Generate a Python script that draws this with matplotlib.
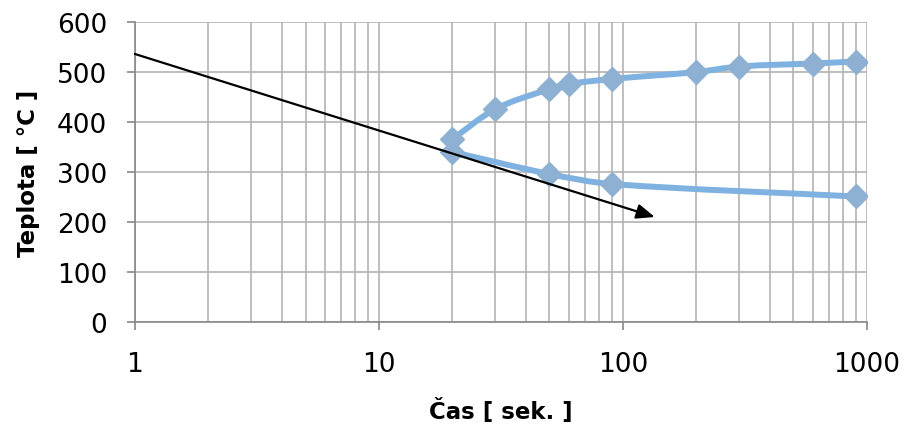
import numpy as np
import matplotlib
matplotlib.use('Agg')
import matplotlib.pyplot as plt
from matplotlib.path import Path
from matplotlib.patches import PathPatch

# ---------------- data ----------------
upper_t = [20, 30, 50, 60, 90, 200, 300, 600, 900]
upper_T = [366, 426, 466, 476, 486, 500, 511, 517, 521]
lower_t = [20, 50, 90, 900]
lower_T = [340, 296, 276, 251]
arrow_start = (1, 536)
arrow_end = (135, 210)

line_col = '#7fb2e0'
mark_col = '#8eb0d2'
grid_col = '#b3b3b3'

plt.rcParams['font.family'] = ['DejaVu Sans']


def smooth_path(xs, ys):
    # hermite spline in (log10 x, y) space -> bezier path (smoothed line look)
    lx = np.log10(xs)
    ys = np.asarray(ys, float)
    n = len(lx)
    m = np.zeros(n)
    m[0] = (ys[1] - ys[0]) / (lx[1] - lx[0])
    m[-1] = (ys[-1] - ys[-2]) / (lx[-1] - lx[-2])
    for i in range(1, n - 1):
        m[i] = (ys[i + 1] - ys[i - 1]) / (lx[i + 1] - lx[i - 1])
    verts = [(xs[0], ys[0])]
    codes = [Path.MOVETO]
    for i in range(n - 1):
        h = (lx[i + 1] - lx[i]) / 3
        pts = [(lx[i] + h, ys[i] + m[i] * h),
               (lx[i + 1] - h, ys[i + 1] - m[i + 1] * h),
               (lx[i + 1], ys[i + 1])]
        for px, py in pts:
            verts.append((10 ** px, py))
        codes += [Path.CURVE4] * 3
    return Path(verts, codes)


fig = plt.figure(figsize=(9.04, 4.27), dpi=100)
ax = fig.add_axes([0.1493, 0.2436, 0.8097, 0.7025])
ax.set_xscale('log')
ax.set_xlim(1, 1000)
ax.set_ylim(0, 600)

ax.grid(True, which='both', axis='x', color=grid_col, lw=1.2)
ax.grid(True, which='major', axis='y', color=grid_col, lw=1.2)
ax.set_axisbelow(True)

for xs, ys in [(upper_t, upper_T), (lower_t, lower_T)]:
    ax.add_patch(PathPatch(smooth_path(xs, ys), fill=False, edgecolor=line_col,
                           lw=4.3, capstyle='round', joinstyle='round', zorder=3))
    ax.plot(xs, ys, linestyle='none', marker='D', ms=12, color=mark_col,
            mec=mark_col, zorder=4)

ax.annotate('', xy=arrow_end, xytext=arrow_start,
            arrowprops=dict(arrowstyle='-|>,head_length=1.1,head_width=0.45',
                            color='black', lw=1.6, shrinkA=0, shrinkB=0),
            zorder=5)

ax.set_yticks(range(0, 601, 100))
ax.set_xticks([1, 10, 100, 1000])
ax.set_xticklabels(['1', '10', '100', '1000'])
ax.tick_params(axis='x', which='major', direction='out', length=6, width=1.2,
               color='#888888', pad=15, labelsize=19)
ax.tick_params(axis='x', which='minor', length=0)
ax.tick_params(axis='y', direction='out', length=6, width=1.2,
               color='#888888', pad=14, labelsize=19)

for s in ['top', 'right']:
    ax.spines[s].set_visible(False)
for s in ['left', 'bottom']:
    ax.spines[s].set_color('#888888')
    ax.spines[s].set_linewidth(1.2)

ax.set_xlabel('Čas [ sek. ]', fontsize=16.5, fontweight='bold', labelpad=15)
ax.set_ylabel('Teplota [ °C ]', fontsize=16.5, fontweight='bold', labelpad=12)

fig.savefig('out.png', dpi=100)
